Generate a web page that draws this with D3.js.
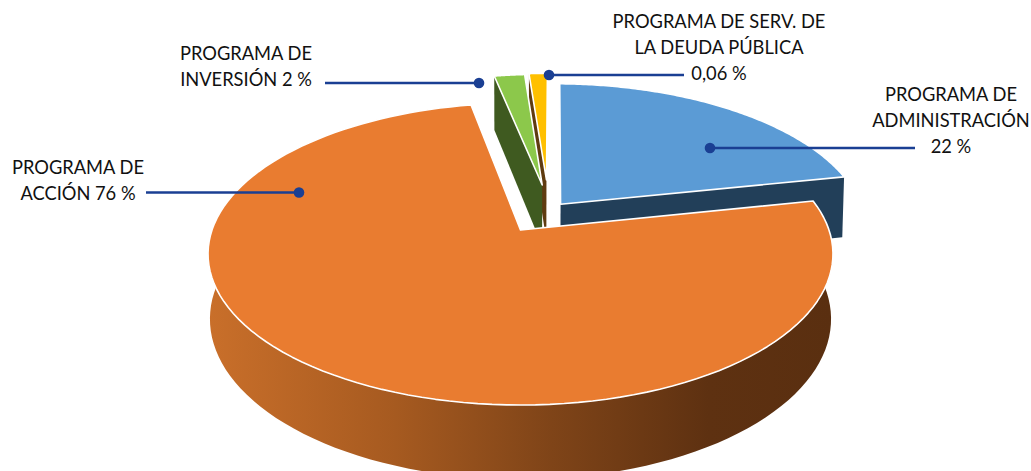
<!DOCTYPE html>
<html><head><meta charset="utf-8">
<script src="https://cdn.jsdelivr.net/npm/d3@7/dist/d3.min.js"></script>
<style>html,body{margin:0;padding:0;background:#fff;overflow:hidden}svg{display:block}
text{font-family:Lato,"Open Sans",sans-serif;font-size:18.3px;fill:#111}</style>
</head><body><svg id="c" width="1031" height="471"></svg>
<script>
// Data: categories and slice shares
const categories = ["Administración","Acción","Inversión","Deuda"];
const drawnShares = [21.5,75.4,2.0,1.25];
const topColors = ["#5B9BD5","#E97C30","#8CC84B","#FFC000"];
const sideColors = ["#223F59","url(#rim)","#3F5A20","#5F3B10"];
const labelLines = [
  ["PROGRAMA DE","ADMINISTRACIÓN","22 %"],
  ["PROGRAMA DE","ACCIÓN 76 %"],
  ["PROGRAMA DE","INVERSIÓN 2 %"],
  ["PROGRAMA DE SERV. DE","LA DEUDA PÚBLICA","0,06 %"]
];

// layout
const explode = [[.1336,-.18],[0,0],[.074,-.321],[.089,-.36]];
const radius = [1,1,.95,.92];
const labelPos = [[951,[101,127,153]],[78,[174,200]],[246,[60,86]],[719,[28,54,80]]];
const leaders = [[710,148,915],[299,192.5,146],[479,83,325],[549,75,684]];
const cx=520.5, cy=230, A=308.5, B=147.2, p=.159, q=.006, r=64;

const project=(u,v,h)=>{const w=1-p*v+q*h;return [cx+A*u/w, cy+(B*v+r*h)/w];};
const svg=d3.select("#c");
const grad=svg.append("defs").append("linearGradient").attr("id","rim")
  .attr("gradientUnits","userSpaceOnUse").attr("x1",208).attr("x2",833).attr("y1",0).attr("y2",0);
[[0,"#C96F2A"],[.3,"#A65A20"],[.55,"#7F4418"],[.8,"#5E3111"],[1,"#5A2F10"]].forEach(s=>
  grad.append("stop").attr("offset",s[0]).attr("stop-color",s[1]));

const pie=d3.pie().sort(null).startAngle(Math.PI/180).endAngle(Math.PI/180+2*Math.PI)(drawnShares);
const line=d3.line().curve(d3.curveLinearClosed);
const pt=(i,a,rr,h)=>project(explode[i][0]+rr*Math.sin(a),explode[i][1]-rr*Math.cos(a),h);
const arcPts=(i,a0,a1,h)=>d3.range(0,121).map(k=>pt(i,a0+(a1-a0)*k/120,radius[i],h));
const tip=(i,h)=>project(explode[i][0],explode[i][1],h);

const g=svg.append("g");
function drawSide(i,pts){g.append("path").attr("d",line(pts)).attr("fill",sideColors[i]);}
function drawTop(i){const s=pie[i];
  g.append("path").attr("d",line([tip(i,0),...arcPts(i,s.startAngle,s.endAngle,0)]))
   .attr("fill",topColors[i]).attr("stroke","#fff").attr("stroke-width",1.6).attr("stroke-linejoin","round");}

// yellow slice (back)
drawSide(3,[tip(3,0),pt(3,pie[3].startAngle,radius[3],0),pt(3,pie[3].startAngle,radius[3],1),tip(3,1)]);
drawTop(3);
// green slice
drawSide(2,[tip(2,0),pt(2,pie[2].startAngle,radius[2],0),pt(2,pie[2].startAngle,radius[2],1),tip(2,1)]);
drawTop(2);
// blue slice
drawSide(0,[tip(0,0),pt(0,pie[0].endAngle,radius[0],0),pt(0,pie[0].endAngle,radius[0],1),tip(0,1)]);
drawTop(0);
// orange slice with its outer rim
{const s=pie[1];
 drawSide(1,[...arcPts(1,s.startAngle,s.endAngle,0),...arcPts(1,s.startAngle,s.endAngle,1).reverse()]);
 drawTop(1);}

// leaders
const ink="#1A3F93";
leaders.forEach(l=>{
  svg.append("line").attr("x1",l[0]).attr("x2",l[2]).attr("y1",l[1]).attr("y2",l[1])
    .attr("stroke",ink).attr("stroke-width",2.4);
  svg.append("circle").attr("cx",l[0]).attr("cy",l[1]).attr("r",5.3).attr("fill",ink);
});
// labels
labelLines.forEach((ls,i)=>{
  ls.forEach((t,k)=>svg.append("text").attr("x",labelPos[i][0]).attr("y",labelPos[i][1][k])
    .attr("text-anchor","middle").text(t));
});
</script></body></html>
